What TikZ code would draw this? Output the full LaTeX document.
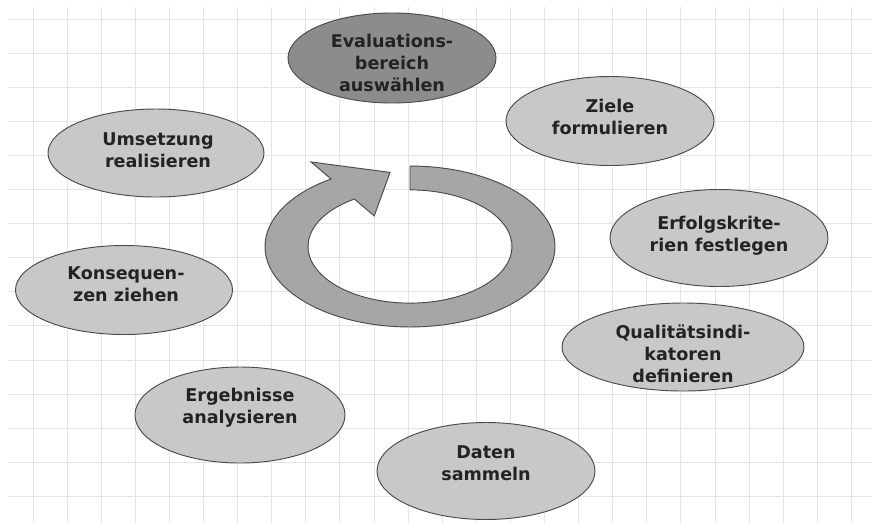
\documentclass[tikz,border=0pt]{standalone}
\usepackage{fontspec}
\setmainfont{DejaVu Sans}
\usetikzlibrary{shapes.geometric}

\definecolor{gridgray}{RGB}{228,228,228}
\definecolor{blobgray}{RGB}{200,200,200}
\definecolor{topgray}{RGB}{140,140,140}
\definecolor{ringgray}{RGB}{166,166,166}
\definecolor{edgegray}{RGB}{75,75,75}
\definecolor{textgray}{RGB}{35,35,35}

\tikzset{
  gridline/.style={gridgray, line width=0.8pt},
  blob/.style={ellipse, draw=edgegray, line width=0.8pt, fill=blobgray, inner sep=0pt},
  blobtext/.style={align=center, text=textgray, font=\fontsize{15}{18.8}\selectfont\bfseries},
  ring/.style={draw=edgegray, line width=0.8pt, fill=ringgray},
}

\begin{document}
\begin{tikzpicture}[x=0.03cm, y=-0.03cm]
	\useasboundingbox[fill=white] (0,0) rectangle (872,523);
	% grid
	\foreach \x in {0,...,24}
	\draw[gridline] (33+\x*34.1,7) -- (33+\x*34.1,523);
	\foreach \y in {0,...,14}
	\draw[gridline] (9,19+\y*34.1) -- (872,19+\y*34.1);
	% ring arrow
	\begin{scope}[shift={(410,246.5)}, yscale=-0.555]
		\draw[ring] (90:145) arc[start angle=90, end angle=-237, radius=145]
		-- (123:181.6) -- (98.5:135) -- (123:65.7) -- (123:102)
		arc[start angle=-237, end angle=90, radius=102] -- cycle;
	\end{scope}
	% steps
	\node[blob, fill=topgray, minimum width=6.24cm, minimum height=2.70cm] (eval) at (392,58) {};
	\node[blobtext] (evaltxt) at (392,63) {Evaluations-\\bereich\\auswählen};
	\node[blob, minimum width=6.24cm, minimum height=2.67cm] (ziele) at (610,121) {};
	\node[blobtext] (zieletxt) at (610,117) {Ziele\\formulieren};
	\node[blob, minimum width=6.54cm, minimum height=2.91cm] (erfolg) at (719,238) {};
	\node[blobtext] (erfolgtxt) at (719,236) {Erfolgskrite-\\rien festlegen};
	\node[blob, minimum width=7.26cm, minimum height=2.64cm] (quali) at (683,347) {};
	\node[blobtext] (qualitxt) at (683,354) {Qualitätsindi-\\katoren\\definieren};
	\node[blob, minimum width=6.54cm, minimum height=2.91cm] (daten) at (486,471) {};
	\node[blobtext] (datentxt) at (486,463) {Daten\\sammeln};
	\node[blob, minimum width=6.30cm, minimum height=2.88cm] (ergeb) at (240,415) {};
	\node[blobtext] (ergebtxt) at (240,408) {Ergebnisse\\analysieren};
	\node[blob, minimum width=6.51cm, minimum height=2.67cm] (konseq) at (124,290) {};
	\node[blobtext] (konseqtxt) at (126,284) {Konsequen-\\zen ziehen};
	\node[blob, minimum width=6.48cm, minimum height=2.64cm] (umsetz) at (156,153) {};
	\node[blobtext] (umsetztxt) at (158,150) {Umsetzung\\realisieren};
\end{tikzpicture}
\end{document}
